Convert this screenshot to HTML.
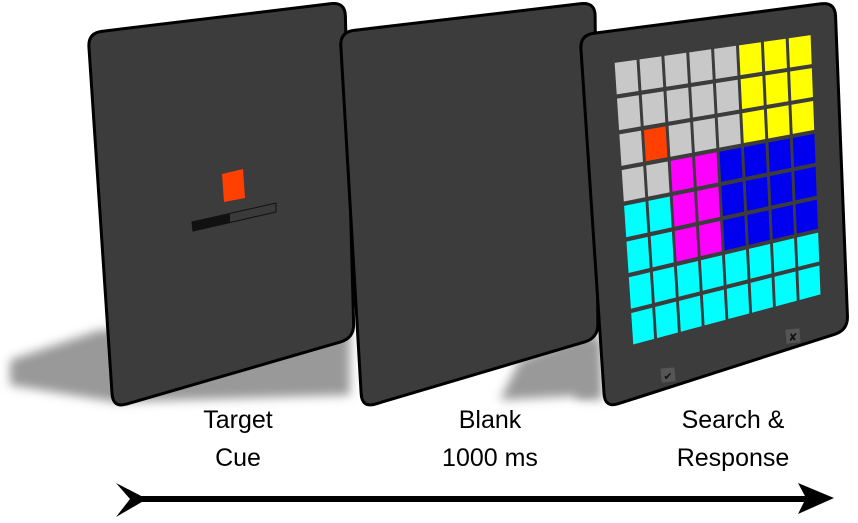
<!DOCTYPE html>
<html><head><meta charset="utf-8"><style>
html,body{margin:0;padding:0;background:#fff;}
svg{display:block;}
text{font-family:"Liberation Sans",sans-serif;font-size:25px;fill:#000;}
</style></head><body>
<svg id="fig" width="858" height="523" viewBox="0 0 858 523">
<defs>
<filter id="blur" x="-20%" y="-30%" width="140%" height="160%"><feGaussianBlur stdDeviation="5"/></filter>
</defs>
<g>
<polygon points="10,360 100,330 350,330 350,395 115,402 10,385" fill="#999" filter="url(#blur)"/>
<polygon points="520,360 592,330 594,395 500,400" fill="#999" filter="url(#blur)"/>
<polygon points="575,345 600,335 602,400 575,398" fill="#999" filter="url(#blur)"/>
</g>
<g>
<path id="p1" fill="#3c3c3c" stroke="#000" stroke-width="3"/>
<polygon points="222,174 243,169 245,198 224,202" fill="#ff4000"/>
<polygon points="192,222 276,203 276,212 193,231" fill="#3a3a3a" stroke="#111" stroke-width="1"/>
<polygon points="192,222 230,214 230,223 193,231" fill="#111"/>
</g>
<g>
<path id="p2" fill="#3c3c3c" stroke="#000" stroke-width="3"/>
</g>
<g>
<path id="p3" fill="#3c3c3c" stroke="#000" stroke-width="3"/>
<g id="grid"></g>
<rect x="661" y="368" width="14" height="14" fill="#555" transform="rotate(-5 668 375)"/>
<text x="668" y="380" text-anchor="middle" style="font-size:11px;fill:#111">✔</text>
<rect x="786" y="329" width="14" height="14" fill="#555" transform="rotate(-5 793 336)"/>
<text x="793" y="341" text-anchor="middle" style="font-size:11px;fill:#111">✘</text>
</g>
<g>
<text x="238" y="428" text-anchor="middle">Target</text>
<text x="238" y="466" text-anchor="middle">Cue</text>
<text x="490" y="428" text-anchor="middle">Blank</text>
<text x="490" y="466" text-anchor="middle">1000 ms</text>
<text x="733" y="428" text-anchor="middle">Search &amp;</text>
<text x="733" y="466" text-anchor="middle">Response</text>
</g>
<g>
<line x1="130" y1="499" x2="815" y2="499" stroke="#000" stroke-width="6"/>
<polygon points="116,483 147,499 116,517 130,499" fill="#000"/>
<polygon points="798,483 834,498 798,514 806,498" fill="#000"/>
</g>
</svg>
<script>
function rounded(pts,r){
  let d='';
  const n=pts.length;
  for(let i=0;i<n;i++){
    const p=pts[i],a=pts[(i+n-1)%n],b=pts[(i+1)%n];
    const la=Math.hypot(a[0]-p[0],a[1]-p[1]),lb=Math.hypot(b[0]-p[0],b[1]-p[1]);
    const s=[p[0]+(a[0]-p[0])*r/la,p[1]+(a[1]-p[1])*r/la];
    const e=[p[0]+(b[0]-p[0])*r/lb,p[1]+(b[1]-p[1])*r/lb];
    d+=(i?'L':'M')+s.join(',')+'Q'+p.join(',')+' '+e.join(',');
  }
  return d+'Z';
}
document.getElementById('p1').setAttribute('d',rounded([[88,33],[345,2],[354,338],[113,408]],14));
document.getElementById('p2').setAttribute('d',rounded([[340,32],[595,2],[598,338],[362,408]],14));
document.getElementById('p3').setAttribute('d',rounded([[580,35],[835,2],[848,330],[605,408]],14));

// Grid layout: rows x cols color codes (g=gray,y=yellow,o=orange,m=magenta,b=blue,c=cyan)
const gridRows = [
 "gggggyyy",
 "gggggyyy",
 "gogggyyy",
 "ggmmbbbb",
 "ccmmbbbb",
 "ccmmbbbb",
 "cccccccc",
 "cccccccc"
];
const colorMap = {g:"#c8c8c8",y:"#ffff00",o:"#ff4000",m:"#ff00ff",b:"#0000ee",c:"#00ffff"};
const TL=[613,61], TR=[812,33], BL=[632,347], BR=[822,296];
function pt(u,v){
  const tx=TL[0]+(TR[0]-TL[0])*u, ty=TL[1]+(TR[1]-TL[1])*u;
  const bx=BL[0]+(BR[0]-BL[0])*u, by=BL[1]+(BR[1]-BL[1])*u;
  return [tx+(bx-tx)*v, ty+(by-ty)*v];
}
const g=document.getElementById('grid');
const n=8, gap=0.12;
gridRows.forEach((row,r)=>{
  [...row].forEach((ch,c)=>{
    const u0=(c+gap/2)/n,u1=(c+1-gap/2)/n,v0=(r+gap/2)/n,v1=(r+1-gap/2)/n;
    const ps=[pt(u0,v0),pt(u1,v0),pt(u1,v1),pt(u0,v1)];
    const p=document.createElementNS('http://www.w3.org/2000/svg','polygon');
    p.setAttribute('points',ps.map(q=>q.join(',')).join(' '));
    p.setAttribute('fill',colorMap[ch]);
    
    
    g.appendChild(p);
  });
});
</script>
</body></html>
